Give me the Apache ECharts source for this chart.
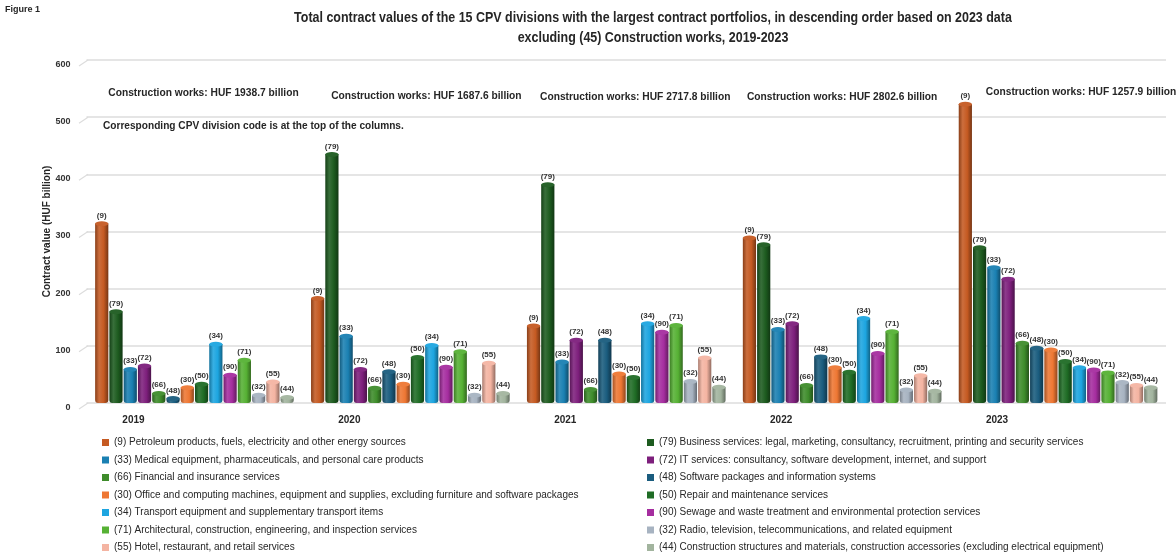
<!DOCTYPE html>
<html>
<head>
<meta charset="utf-8">
<script src="https://cdn.jsdelivr.net/npm/echarts@6/dist/echarts.min.js"></script>
<style>
  html, body { margin: 0; padding: 0; background: #ffffff; }
  #chart { width: 1176px; height: 558px; }
</style>
</head>
<body>
<div id="chart"></div>
<script>
// Years on the category axis
const years = ['2019', '2020', '2021', '2022', '2023'];

// Contract value per CPV division, HUF billion (2019..2023)
const div09 = [314, 183, 135, 289, 523];
const div79 = [160, 435, 382, 277, 272];
const div33 = [59, 117, 72, 129, 237];
const div72 = [65, 59, 110, 139, 217];
const div66 = [17, 26, 24, 31, 105];
const div48 = [8, 55, 110, 81, 96];
const div30 = [27, 33, 51, 62, 93];
const div50 = [33, 80, 45, 54, 73];
const div34 = [103, 101, 139, 148, 62];
const div90 = [49, 63, 124, 87, 58];
const div71 = [75, 90, 136, 125, 53];
const div32 = [14, 14, 38, 23, 36];
const div55 = [37, 70, 79, 48, 31];
const div44 = [10, 17, 28, 21, 27];

// (45) Construction works, shown as text above each year, HUF billion
const constructionWorks = [1938.7, 1687.6, 2717.8, 2802.6, 1257.9];

// Y axis ticks
const yTicks = [0, 100, 200, 300, 400, 500, 600];

const divisions = [
  { code: '9',  name: '(9) Petroleum products, fuels, electricity and other energy sources', color: '#C55A22', data: div09 },
  { code: '79', name: '(79) Business services: legal, marketing, consultancy, recruitment, printing and security services', color: '#1D5B1F', data: div79 },
  { code: '33', name: '(33) Medical equipment, pharmaceuticals, and personal care products', color: '#1A80B2', data: div33 },
  { code: '72', name: '(72) IT services: consultancy, software development, internet, and support', color: '#7D1F7C', data: div72 },
  { code: '66', name: '(66) Financial and insurance services', color: '#3E8C2B', data: div66 },
  { code: '48', name: '(48) Software packages and information systems', color: '#1A5C7E', data: div48 },
  { code: '30', name: '(30) Office and computing machines, equipment and supplies, excluding furniture and software packages', color: '#EE7733', data: div30 },
  { code: '50', name: '(50) Repair and maintenance services', color: '#1F6C25', data: div50 },
  { code: '34', name: '(34) Transport equipment and supplementary transport items', color: '#1DA5E0', data: div34 },
  { code: '90', name: '(90) Sewage and waste treatment and environmental protection services', color: '#A52D9F', data: div90 },
  { code: '71', name: '(71) Architectural, construction, engineering, and inspection services', color: '#56B134', data: div71 },
  { code: '32', name: '(32) Radio, television, telecommunications, and related equipment', color: '#A7B3C1', data: div32 },
  { code: '55', name: '(55) Hotel, restaurant, and retail services', color: '#F4B4A2', data: div55 },
  { code: '44', name: '(44) Construction structures and materials, construction accessories (excluding electrical equipment)', color: '#A2B49E', data: div44 }
];

const FONT = "'Liberation Sans', Arial, sans-serif";
const TEXT = '#262626';

// lighten (amt > 0) or darken (amt < 0) a hex colour
function shade(hex, amt) {
  const n = parseInt(hex.slice(1), 16);
  let r = (n >> 16) & 255, g = (n >> 8) & 255, b = n & 255;
  const f = c => Math.round(amt >= 0 ? c + (255 - c) * amt : c * (1 + amt));
  r = f(r); g = f(g); b = f(b);
  return '#' + ((1 << 24) | (r << 16) | (g << 8) | b).toString(16).slice(1);
}

// horizontal gradient that gives each column a rounded, cylindrical look
function cylinder(c) {
  return {
    type: 'linear', x: 0, y: 0, x2: 1, y2: 0,
    colorStops: [
      { offset: 0, color: shade(c, -0.30) },
      { offset: 0.30, color: shade(c, 0.12) },
      { offset: 0.65, color: c },
      { offset: 1, color: shade(c, -0.40) }
    ]
  };
}

const GAP = '8%';
const CAT_GAP = '8%';

const barSeries = divisions.map(d => ({
  name: d.name,
  type: 'bar',
  data: d.data,
  barGap: GAP,
  barCategoryGap: CAT_GAP,
  itemStyle: { color: cylinder(d.color), borderRadius: [0, 0, 3, 3] },
  label: {
    show: true, position: 'top', distance: 4,
    formatter: '(' + d.code + ')',
    fontFamily: FONT, fontSize: 8, fontWeight: 'bold', color: '#333'
  },
  z: 2
}));

// elliptical caps on top of the columns
const capSeries = divisions.map(d => ({
  name: d.name,
  type: 'pictorialBar',
  data: d.data,
  barGap: GAP,
  barCategoryGap: CAT_GAP,
  symbol: 'circle',
  symbolSize: ['100%', 5],
  symbolPosition: 'end',
  symbolOffset: [0, '-50%'],
  itemStyle: { color: shade(d.color, 0.05), borderColor: shade(d.color, -0.3), borderWidth: 0.6 },
  silent: true,
  z: 3
}));

// legend entries with flat colour swatches, split into two columns
const legendText = { fontFamily: FONT, fontSize: 10, color: TEXT, lineHeight: 13 };
const legendItem = d => ({ name: d.name, itemStyle: { color: d.color } });
const leftItems = divisions.filter((d, i) => i % 2 === 0).map(legendItem);
const rightItems = divisions.filter((d, i) => i % 2 === 1).map(legendItem);

// bold heading text, squeezed horizontally for a narrow face look
function heading(id, text, x, y, size, align, squeeze) {
  return {
    id: id, type: 'group', x: x, y: y, scaleX: squeeze, silent: true,
    children: [{
      type: 'text', x: 0, y: 0,
      style: { text: text, font: 'bold ' + size + 'px ' + FONT, fill: TEXT, align: align, verticalAlign: 'middle' }
    }]
  };
}

const chart = echarts.init(document.getElementById('chart'), null, { renderer: 'canvas' });

chart.setOption({
  animation: false,
  backgroundColor: '#ffffff',
  textStyle: { fontFamily: FONT },
  grid: { left: 86.5, right: 10, top: 60, bottom: 155, containLabel: false },
  legend: [
    {
      data: leftItems, orient: 'vertical', left: 97, top: 431, height: 200,
      icon: 'rect', itemWidth: 7, itemHeight: 7, itemGap: 4.5,
      textStyle: legendText, selectedMode: false
    },
    {
      data: rightItems, orient: 'vertical', left: 642, top: 431, height: 200,
      icon: 'rect', itemWidth: 7, itemHeight: 7, itemGap: 4.5,
      textStyle: legendText, selectedMode: false
    }
  ],
  xAxis: {
    type: 'category',
    data: years,
    axisLine: { show: false },
    axisTick: { show: false },
    axisLabel: {
      margin: 12, padding: [0, 122, 0, 0],
      fontFamily: FONT, fontSize: 10, fontWeight: 'bold', color: TEXT
    }
  },
  yAxis: {
    type: 'value',
    min: yTicks[0], max: yTicks[yTicks.length - 1], interval: 100,
    name: 'Contract value (HUF billion)',
    nameLocation: 'middle', nameGap: 34, nameMoveOverlap: false,
    nameTextStyle: { fontFamily: FONT, fontSize: 10, fontWeight: 'bold', color: TEXT },
    axisLine: { show: false },
    axisTick: { show: false },
    axisLabel: {
      margin: 16, verticalAlign: 'top',
      fontFamily: FONT, fontSize: 9, fontWeight: 'bold', color: '#333'
    },
    splitLine: { lineStyle: { color: '#dcdcdc', width: 1.6 } }
  },
  series: [...barSeries, ...capSeries]
});

// "Construction works" note above each year group, placed through the axes
const noteShift = [[9, -2], [16, 1], [9, 2], [0, 2], [23, -3]];
const notes = years.map((yr, i) => {
  const x = chart.convertToPixel({ xAxisIndex: 0 }, yr) + noteShift[i][0];
  const y = chart.convertToPixel({ yAxisIndex: 0 }, 538) + noteShift[i][1];
  return heading('note' + i, 'Construction works: HUF ' + constructionWorks[i].toFixed(1) + ' billion', x, y, 11, 'center', 0.93);
});

// short slanted strokes at the left end of each grid line (side wall edge)
const stubs = yTicks.map((v, i) => {
  const y = chart.convertToPixel({ yAxisIndex: 0 }, v);
  return {
    id: 'stub' + i, type: 'line', silent: true,
    shape: { x1: 79, y1: y + 6, x2: 88, y2: y },
    style: { stroke: '#dcdcdc', lineWidth: 1.2 }
  };
});

chart.setOption({
  graphic: [
    {
      id: 'figure', type: 'text', x: 5, y: 5, silent: true,
      style: { text: 'Figure 1', font: 'bold 9px ' + FONT, fill: TEXT }
    },
    heading('title1', 'Total contract values of the 15 CPV divisions with the largest contract portfolios, in descending order based on 2023 data', 653, 18, 14, 'center', 0.89),
    heading('title2', 'excluding (45) Construction works, 2019-2023', 653, 38, 14, 'center', 0.89),
    heading('hint', 'Corresponding CPV division code is at the top of the columns.', 103, 126, 11, 'left', 0.92),
    ...notes,
    ...stubs
  ]
});
</script>
</body>
</html>
